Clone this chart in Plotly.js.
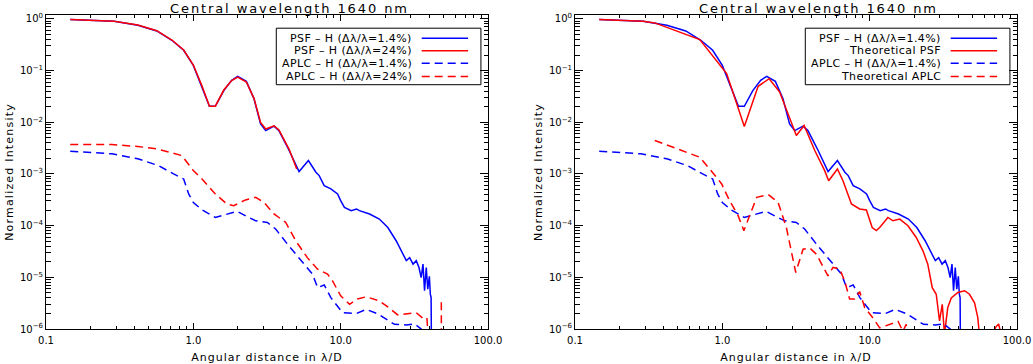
<!DOCTYPE html>
<html>
<head>
<meta charset="utf-8">
<script src="https://cdn.plot.ly/plotly-3.0.1.min.js"></script>
<style>
    body { margin: 0; background: #fff; }
    #myPlot { width: 1033px; height: 364px; }
</style>
</head>
<body>
<div id="myPlot"></div>
<script>
// measured PSF, narrow band (same in both panels)
const psfNarrowX = [0.146, 0.2, 0.29, 0.42, 0.565, 0.715, 0.86, 1.0, 1.146, 1.286, 1.41, 1.61, 1.82, 2.0, 2.29, 2.58, 2.86, 3.1, 3.53, 3.81, 4.47, 5.22, 6.04, 6.79, 7.15, 7.73, 8.58, 9.53, 10.0, 10.6, 11.8, 12.8, 13.4, 15.7, 18.3, 20.9, 23.8, 26.4, 27.9, 29.4, 31.0, 32.6, 34.0, 35.2, 36.2, 37.1, 38.1, 39.0, 40.0, 40.6, 41.1, 41.3];
const psfNarrowY = [0.97, 0.94, 0.90, 0.755, 0.585, 0.386, 0.247, 0.126, 0.048, 0.0203, 0.0203, 0.041, 0.0647, 0.0774, 0.0618, 0.0285, 0.0093, 0.0069, 0.0084, 0.0069, 0.00284, 0.00111, 0.00182, 0.00108, 0.00093, 0.000594, 0.000513, 0.00041, 0.000304, 0.000226, 0.000195, 0.00021, 0.000195, 0.000168, 0.000134, 9.2e-5, 5.1e-5, 2.8e-5, 2.1e-5, 2.4e-5, 1.8e-5, 2.1e-5, 1.55e-5, 9.9e-6, 1.8e-5, 5.5e-6, 1.55e-5, 5.9e-6, 1.05e-5, 4.7e-6, 4.05e-6, 5e-7];

// measured PSF, broad band (left panel)
const psfBroadX = [0.146, 0.2, 0.29, 0.42, 0.565, 0.715, 0.86, 1.0, 1.146, 1.286, 1.41, 1.61, 1.82, 2.0, 2.29, 2.58, 2.86, 3.1, 3.53, 3.81, 4.47, 5.03];
const psfBroadY = [0.97, 0.94, 0.90, 0.76, 0.59, 0.39, 0.25, 0.128, 0.05, 0.0205, 0.0205, 0.042, 0.064, 0.075, 0.06, 0.029, 0.0099, 0.0074, 0.0085, 0.0071, 0.003, 0.00125];

// measured APLC, narrow band (same in both panels)
const aplcNarrowX = [0.146, 0.28, 0.42, 0.58, 0.735, 0.86, 0.93, 1.0, 1.15, 1.41, 1.61, 1.98, 2.38, 2.65, 3.18, 3.62, 4.35, 5.08, 5.8, 6.44, 6.97, 7.73, 8.58, 10.3, 12.7, 14.9, 17.8, 20.3, 23.2, 27.9, 31.7, 35.2, 37.0];
const aplcNarrowY = [0.00275, 0.00245, 0.00196, 0.00145, 0.001, 0.0008, 0.00041, 0.00028, 0.0002, 0.000144, 0.00016, 0.000189, 0.000144, 0.000124, 0.000115, 8.6e-5, 4.4e-5, 2.6e-5, 1.67e-5, 1.15e-5, 6.3e-6, 7.1e-6, 4.05e-6, 2.07e-6, 1.98e-6, 2.4e-6, 1.98e-6, 1.54e-6, 1.23e-6, 1.2e-6, 1.26e-6, 1.0e-6, 6e-7];

// measured APLC, broad band (left panel)
const aplcBroadX = [0.146, 0.28, 0.42, 0.565, 0.835, 0.93, 1.0, 1.146, 1.41, 1.69, 1.88, 2.26, 2.65, 3.02, 3.53, 4.24, 4.95, 5.94, 6.97, 8.15, 8.81, 10.0, 11.5, 13.0, 14.9, 18.3, 20.9, 24.4, 29.4, 32.6, 36.2, 38.5, 39.5, null, 48.2, 48.3];
const aplcBroadY = [0.00371, 0.0037, 0.0034, 0.00306, 0.00227, 0.0015, 0.00116, 0.0008, 0.00041, 0.000262, 0.000243, 0.000314, 0.000352, 0.00028, 0.000168, 0.000115, 5.1e-5, 2.4e-5, 1.44e-5, 1.15e-5, 8.5e-6, 4.4e-6, 3e-6, 3.8e-6, 4.2e-6, 3.5e-6, 2.67e-6, 1.87e-6, 1.98e-6, 2.07e-6, 1.6e-6, 1.65e-6, 5e-7, null, 3.3e-6, 5e-7];

// theoretical PSF (right panel)
const psfTheoX = [0.146, 0.2, 0.29, 0.348, 0.703, 1.07, 1.41, 1.75, 2.08, 2.45, 3.18, 3.59, 4.24, 4.95, 5.27, 6.04, 6.59, 7.52, 8.55, 9.5, 10.4, 11.1, 11.7, 13.3, 14.4, 16.0, 18.2, 20.7, 23.0, 24.8, 26.6, 28.3, 29.8, 31.1, 32.2, 33.9, 35.8, 39.7, 44.1, 47.6, 51.5, 54.2, 55.5, null, 68, 72, 75, 78];
const psfTheoY = [0.97, 0.94, 0.90, 0.836, 0.398, 0.0873, 0.0083, 0.0495, 0.0697, 0.0384, 0.00554, 0.00867, 0.00284, 0.00116, 0.00074, 0.00125, 0.00074, 0.000262, 0.00021, 0.000201, 9.2e-5, 8e-5, 9.2e-5, 0.000144, 0.000124, 0.000134, 9.96e-5, 5.9e-5, 3.26e-5, 1.8e-5, 6.3e-6, 4.7e-6, 1.43e-6, 3e-6, 8e-7, 2.6e-6, 4e-6, 5.1e-6, 5.5e-6, 4.7e-6, 3.2e-6, 1.66e-6, 8e-7, null, 8e-7, 1.1e-6, 1.25e-6, 8e-7];

// theoretical APLC (right panel)
const aplcTheoX = [0.348, 0.703, 0.914, 0.99, 1.12, 1.28, 1.4, 1.71, 2.05, 2.39, 2.72, 3.15, 3.53, 3.92, 4.35, 4.83, 5.21, 5.64, 6.26, 6.77, 7.31, 7.91, 8.55, 9.25, 10.5, 11.7, 13.7, 15.6, 16.8, 17.7, 18.5];
const aplcTheoY = [0.00444, 0.0021, 0.00086, 0.00064, 0.000304, 0.000156, 8e-5, 0.000352, 0.000398, 0.000282, 9.2e-5, 1.24e-5, 3.5e-5, 3.7e-5, 2.8e-5, 1.55e-5, 1.07e-5, 1.55e-5, 1.44e-5, 8.5e-6, 3.8e-6, 3.8e-6, 5.3e-6, 2.6e-6, 1.65e-6, 1.05e-6, 1.23e-6, 1.4e-6, 9e-7, 1.23e-6, 5e-7];

// tick labels
const xTickVals = [0.1, 1, 10, 100];
const xTickText = ['0.1', '1.0', '10.0', '100.0'];
const yTickVals = [1e-6, 1e-5, 1e-4, 1e-3, 1e-2, 1e-1, 1];
const yTickText = ['10<sup>−6</sup>', '10<sup>−5</sup>', '10<sup>−4</sup>', '10<sup>−3</sup>', '10<sup>−2</sup>', '10<sup>−1</sup>', '10<sup>0</sup>'];

const leftNames = ['PSF – H (Δλ/λ=1.4%)', 'PSF – H (Δλ/λ=24%)', 'APLC – H (Δλ/λ=1.4%)', 'APLC – H (Δλ/λ=24%)'];
const rightNames = ['PSF – H (Δλ/λ=1.4%)', 'Theoretical PSF', 'APLC – H (Δλ/λ=1.4%)', 'Theoretical APLC'];
const seriesColors = ['#0000ff', '#ff0000', '#0000ff', '#ff0000'];
const seriesDash = ['solid', 'solid', '8px,5px', '8px,5px'];

const panelTitle = 'Central wavelength 1640 nm';
const xTitle = 'Angular distance in λ/D';
const yTitle = 'Normalized Intensity';

const FONT = 'DejaVu Sans, sans-serif';

// the IDL vector font runs wider than DejaVu, so open up the spacing a bit
function spaced(text, px) {
    return `<span style="letter-spacing:${px}px">${text}</span>`;
}

// minor ticks 2..9 per decade
function minorTicks(fromExp, toExp) {
    const vals = [];
    for (let e = fromExp; e < toExp; e++) {
        for (let m = 2; m <= 9; m++) vals.push(m * Math.pow(10, e));
    }
    return vals;
}

function line(x, y, i, names, xa, ya) {
    return {
        x: x,
        y: y,
        name: names[i],
        type: 'scatter',
        mode: 'lines',
        xaxis: xa,
        yaxis: ya,
        line: { color: seriesColors[i], width: 1.5, dash: seriesDash[i] },
        showlegend: false
    };
}

function axis(opts) {
    return Object.assign({
        type: 'log',
        showline: true,
        linecolor: '#000',
        linewidth: 1,
        mirror: 'allticks',
        ticks: 'inside',
        tickcolor: '#000',
        tickmode: 'array',
        showgrid: false,
        zeroline: false,
        automargin: false,
        tickfont: { family: FONT, size: 10, color: '#000' }
    }, opts);
}

function xAxis(domain, anchor) {
    return axis({
        domain: domain,
        anchor: anchor,
        range: [-1, 2],
        ticklen: 6,
        ticklabelstandoff: 2,
        tickvals: xTickVals,
        ticktext: xTickText,
        minor: { tickmode: 'array', tickvals: minorTicks(-1, 2), ticks: 'inside', ticklen: 3, tickcolor: '#000', showgrid: false },
        title: { text: spaced(xTitle, 1), font: { family: FONT, size: 11, color: '#000' }, standoff: 8 }
    });
}

function yAxis(domain, anchor) {
    return axis({
        domain: domain,
        anchor: anchor,
        range: [-6, 0.075],
        ticklen: 8,
        tickvals: yTickVals,
        ticktext: yTickText,
        minor: { tickmode: 'array', tickvals: minorTicks(-6, 0), ticks: 'inside', ticklen: 4.5, tickcolor: '#000', showgrid: false },
        title: { text: spaced(yTitle, 1.2), font: { family: FONT, size: 11, color: '#000' }, standoff: 4 }
    });
}

// IDL style legend: label right aligned, line sample on the right
function legendBox(names, xa, ya) {
    const xref = xa + ' domain';
    const yref = ya + ' domain';
    const rows = [0.926, 0.886, 0.846, 0.804];
    const shapes = [{
        type: 'rect', xref: xref, yref: yref,
        x0: 0.521, x1: 0.984, y0: 0.778, y1: 0.958,
        line: { color: '#000', width: 1 }, fillcolor: 'rgba(0,0,0,0)'
    }];
    const annotations = [];
    names.forEach((name, i) => {
        shapes.push({
            type: 'line', xref: xref, yref: yref,
            x0: 0.85, x1: 0.955, y0: rows[i], y1: rows[i],
            line: { color: seriesColors[i], width: 1.5, dash: seriesDash[i] }
        });
        annotations.push({
            text: spaced(name, 0.4), xref: xref, yref: yref,
            x: 0.832, y: rows[i], xanchor: 'right', yanchor: 'middle',
            showarrow: false, font: { family: FONT, size: 11, color: '#000' }
        });
    });
    return { shapes, annotations };
}

const traces = [
    line(psfNarrowX, psfNarrowY, 0, leftNames, 'x', 'y'),
    line(psfBroadX, psfBroadY, 1, leftNames, 'x', 'y'),
    line(aplcNarrowX, aplcNarrowY, 2, leftNames, 'x', 'y'),
    line(aplcBroadX, aplcBroadY, 3, leftNames, 'x', 'y'),
    line(psfNarrowX, psfNarrowY, 0, rightNames, 'x2', 'y2'),
    line(psfTheoX, psfTheoY, 1, rightNames, 'x2', 'y2'),
    line(aplcNarrowX, aplcNarrowY, 2, rightNames, 'x2', 'y2'),
    line(aplcTheoX, aplcTheoY, 3, rightNames, 'x2', 'y2')
];

const leftLegend = legendBox(leftNames, 'x', 'y');
const rightLegend = legendBox(rightNames, 'x2', 'y2');

// title starts at the same place over each panel
const titles = ['x', 'x2'].map(xa => ({
    text: spaced(panelTitle, 1.9), xref: xa + ' domain', yref: 'paper',
    x: 0.276, y: 1 - 8.5 / 364, xanchor: 'left', yanchor: 'middle',
    showarrow: false, font: { family: FONT, size: 13, color: '#000' }
}));

const yDomain = [35 / 364, 349 / 364];

const layout = {
    width: 1033,
    height: 364,
    margin: { l: 0, r: 0, t: 0, b: 0 },
    paper_bgcolor: '#fff',
    plot_bgcolor: '#fff',
    showlegend: false,
    xaxis: xAxis([46 / 1033, 488 / 1033], 'y'),
    yaxis: yAxis(yDomain, 'x'),
    xaxis2: xAxis([575 / 1033, 1017 / 1033], 'y2'),
    yaxis2: yAxis(yDomain, 'x2'),
    shapes: leftLegend.shapes.concat(rightLegend.shapes),
    annotations: titles.concat(leftLegend.annotations, rightLegend.annotations)
};

Plotly.newPlot('myPlot', traces, layout, { displayModeBar: false, staticPlot: true });
</script>
</body>
</html>
